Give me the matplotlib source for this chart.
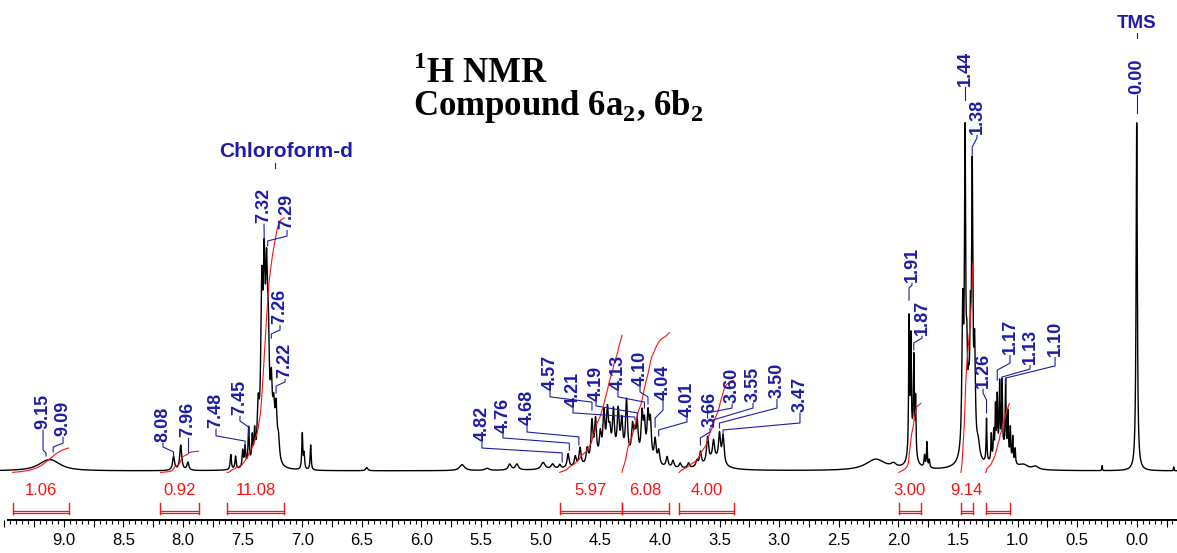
import numpy as np
import matplotlib
matplotlib.use('Agg')
import matplotlib.pyplot as plt
from matplotlib.ticker import MultipleLocator, FuncFormatter

plt.rcParams['font.family'] = ['Liberation Sans', 'DejaVu Sans']
plt.rcParams['mathtext.fontset'] = 'custom'
plt.rcParams['mathtext.rm'] = 'Liberation Serif:bold'
plt.rcParams['mathtext.bf'] = 'Liberation Serif:bold'

# peak list: shift (ppm), height (TMS = 100), width (ppm)
peak_ppm = [9.15, 9.09, 8.08, 8.02, 7.96,
            7.60, 7.56, 7.50, 7.48, 7.45, 7.42, 7.40,
            7.37, 7.34, 7.32, 7.30, 7.285, 7.26, 7.24, 7.22, 7.20,
            7.00, 6.985, 6.93, 6.46, 5.66, 5.45, 5.26, 5.20, 4.98, 4.90,
            4.84, 4.77, 4.71, 4.67, 4.61, 4.57, 4.54, 4.50, 4.47, 4.44,
            4.42, 4.39, 4.35, 4.32, 4.28, 4.23, 4.21, 4.19, 4.15, 4.13,
            4.10, 4.08, 4.04, 4.01, 3.94, 3.89, 3.83, 3.76, 3.69, 3.66,
            3.60, 3.55, 3.50, 3.47, 4.35, 3.55,
            2.19, 2.04,
            1.91, 1.895, 1.87, 1.855, 1.885, 1.78, 1.76, 1.74,
            1.46, 1.44, 1.425, 1.41, 1.395, 1.38, 1.36, 1.33, 1.41,
            1.26, 1.22, 1.20, 1.185, 1.17, 1.15, 1.13, 1.10, 1.08, 1.06,
            1.04, 1.02, 1.13, 0.95, 0.85,
            0.29, 0.00, -0.31]
peak_height = [1.8, 1.8, 4.0, 7.2, 2.3,
               4.3, 3.7, 4.9, 5.7, 10.9, 7.5, 8.0,
               14.0, 44.0, 46.0, 42.0, 27.0, 18.0, 12.0, 14.0, 6.0,
               10.3, 4.3, 7.2, 0.9, 1.7, 0.6, 1.7, 1.7, 2.0, 1.4,
               1.1, 4.0, 2.9, 5.2, 4.3, 11.5, 11.5, 7.0, 12.5, 12.5,
               6.0, 12.5, 12.5, 9.5, 16.0, 8.5, 6.0, 9.5, 12.5, 9.5,
               12.5, 11.0, 6.8, 4.0, 2.9, 2.0, 1.4, 1.4, 1.7, 4.0,
               7.2, 5.2, 8.0, 8.0, 3.4, 2.9,
               3.2, 1.1,
               38.0, 29.0, 25.0, 16.0, 8.6, 3.4, 7.2, 2.3,
               40.0, 85.0, 18.0, 8.0, 28.0, 75.0, 28.0, 4.3, 8.6,
               12.5, 7.5, 7.5, 14.0, 16.0, 19.0, 19.0, 20.5, 12.5, 9.0,
               7.2, 4.3, 5.7, 1.1, 0.9,
               1.4, 100.0, 1.1]
peak_width = [0.18, 0.18, 0.02, 0.02, 0.02,
              0.012, 0.012, 0.012, 0.012, 0.012, 0.012, 0.012,
              0.02, 0.02, 0.02, 0.02, 0.02, 0.02, 0.02, 0.02, 0.02,
              0.01, 0.01, 0.01, 0.02, 0.05, 0.04, 0.03, 0.03, 0.04, 0.03,
              0.02, 0.02, 0.02, 0.02, 0.02, 0.02, 0.02, 0.02, 0.02, 0.02,
              0.02, 0.02, 0.02, 0.02, 0.02, 0.02, 0.02, 0.02, 0.02, 0.02,
              0.02, 0.02, 0.02, 0.02, 0.02, 0.02, 0.02, 0.02, 0.02, 0.02,
              0.02, 0.02, 0.02, 0.02, 0.4, 0.15,
              0.2, 0.05,
              0.008, 0.008, 0.008, 0.008, 0.05, 0.01, 0.008, 0.01,
              0.015, 0.012, 0.012, 0.012, 0.012, 0.012, 0.015, 0.03, 0.08,
              0.008, 0.008, 0.008, 0.008, 0.008, 0.008, 0.008, 0.008, 0.008, 0.008,
              0.008, 0.008, 0.12, 0.08, 0.06,
              0.005, 0.012, 0.005]

# integration regions (ppm from, ppm to) and values
int_from = [9.43, 8.19, 7.63, 4.84, 4.318, 3.84, 1.996, 1.475, 1.268]
int_to = [8.96, 7.87, 7.15, 4.318, 3.92, 3.38, 1.81, 1.374, 1.067]
int_value = [1.06, 0.92, 11.08, 5.97, 6.08, 4.00, 3.00, 9.14, 3.00]
int_label = ['1.06', '0.92', '11.08', '5.97', '6.08', '4.00', '3.00', '9.14', '']

# picked peaks
label_ppm = [9.15, 9.09, 8.08, 7.96, 7.48, 7.45, 7.32, 7.29, 7.26, 7.22,
             4.82, 4.76, 4.68, 4.57, 4.21, 4.19, 4.13, 4.10, 4.04, 4.01,
             3.66, 3.60, 3.55, 3.50, 3.47,
             1.91, 1.87, 1.44, 1.38, 1.26, 1.17, 1.13, 1.10, 0.00]

# label layout: text x (ppm), text bottom, first knee, second knee, line end
label_x = [9.175, 9.007, 8.169, 7.96, 7.724, 7.523, 7.321, 7.128, 7.187, 7.145,
           5.493, 5.316, 5.115, 4.922, 4.729, 4.536, 4.352, 4.167, 3.974, 3.773,
           3.580, 3.395, 3.219, 3.018, 2.825,
           1.885, 1.801, 1.440, 1.340, 1.289, 1.063, 0.895, 0.685, 0.0]
label_y = [(12.1, 6.0, 5.2, 4.3), (10.1, 8.0, 6.9, 5.5), (8.3, 6.9, 5.5, 4.0),
           (9.8, 8.6, 7.5, 5.5), (12.4, 10.1, 8.6, 6.3), (16.1, 14.4, 12.6, 10.1),
           (71.3, 69.8, 68.7, 66.4), (69.5, 67.5, 66.1, 64.7), (42.2, 40.5, 39.4, 38.2),
           (26.7, 25.6, 24.4, 22.4),
           (8.6, 6.6, 5.2, 2.6), (10.9, 9.5, 8.0, 6.0), (13.2, 11.2, 9.8, 7.5),
           (23.3, 21.3, 19.8, 17.5), (18.4, 16.7, 15.5, 14.7), (20.1, 18.7, 16.7, 15.2),
           (23.3, 21.3, 19.8, 18.1), (24.4, 22.7, 21.3, 19.3), (20.4, 17.5, 15.2, 12.6),
           (15.5, 14.1, 11.8, 10.1),
           (12.6, 11.2, 9.5, 7.5), (19.5, 18.1, 16.7, 15.2), (19.8, 18.1, 14.7, 12.6),
           (21.0, 18.1, 13.8, 12.4), (17.0, 13.8, 11.8, 9.8),
           (54.3, 53.4, 52.6, 49.1), (39.1, 38.2, 36.8, 34.8), (110.6, 109.5, 108.0, 106.6),
           (96.8, 95.7, 93.1, 90.8), (23.9, 22.4, 20.4, 16.7), (33.6, 31.0, 29.0, 26.1),
           (30.7, 29.3, 27.0, 25.3), (33.0, 30.2, 26.7, 25.0), (108.3, 107.5, 106.6, 102.9)]

blue = '#1c1caa'
red = '#ff1010'

ppm = np.linspace(9.536, -0.338, 40000)
spec = np.zeros_like(ppm)
for c, h, w in zip(peak_ppm, peak_height, peak_width):
    spec += h / (1 + ((ppm - c) / (w / 2)) ** 2)

fig = plt.figure(figsize=(11.77, 5.53), dpi=100)
ax = fig.add_axes([0, 0, 1, 1])
ax.set_xlim(9.536, -0.338)
ax.set_ylim(-23.56, 135.34)

ax.plot(ppm, spec, color='black', lw=1.0)

# integrals
k = 6.6
for a, b, v, lab in zip(int_from, int_to, int_value, int_label):
    m = (ppm <= a) & (ppm >= b)
    cum = np.cumsum(spec[m])
    cum = cum / cum[-1] * v * k - 0.4
    ax.plot(ppm[m], cum, color=red, lw=0.8)
    ax.plot([a, a], [-9.2, -12.4], color=red, lw=1)
    ax.plot([b, b], [-9.2, -12.4], color=red, lw=1)
    ax.plot([a, b], [-11.4, -11.4], color=red, lw=0.9)
    ax.plot([a, b], [-12.1, -12.1], color=red, lw=0.9)
    ax.text((a + b) / 2, -5.7, lab, color=red, fontsize=12, ha='center', va='center')

# peak labels
for p, lx, (tb, k1, k2, end) in zip(label_ppm, label_x, label_y):
    ax.text(lx, tb, f'{p:.2f}', rotation=90, ha='center', va='bottom',
            color=blue, fontsize=13, fontweight='bold')
    ax.plot([lx, lx, p, p], [tb - 0.4, k1, k2, end], color=blue, lw=0.8)

ax.text(7.14, 91.7, 'Chloroform-d', color=blue, fontsize=15, fontweight='bold',
        ha='center', va='center')
ax.plot([7.229, 7.229], [88.5, 87.1], color=blue, lw=0.8)
ax.text(0.0, 128.7, 'TMS', color=blue, fontsize=13.5, fontweight='bold',
        ha='center', va='center')
ax.plot([0.0, 0.0], [125.9, 124.4], color=blue, lw=0.8)

fig.text(413 / 1177, 1 - 83 / 553, r'$^{1}$H NMR', family='Liberation Serif',
         fontweight='bold', fontsize=25, va='baseline')
fig.text(413 / 1177, 1 - 115 / 553, r'Compound 6a$_{2}$, 6b$_{2}$', family='Liberation Serif',
         fontweight='bold', fontsize=25, va='baseline')

# ppm axis
for s in ['left', 'right', 'top']:
    ax.spines[s].set_visible(False)
ax.spines['bottom'].set_position(('data', -14.1))
ax.spines['bottom'].set_bounds(9.47, -0.338)
ax.spines['bottom'].set_linewidth(1.4)
ax.yaxis.set_visible(False)
ax.xaxis.set_major_locator(MultipleLocator(0.25))
ax.xaxis.set_minor_locator(MultipleLocator(0.05))


def fmt(v, pos):
    if abs(v * 2 - round(v * 2)) > 1e-6 or v > 9.3 or v < -0.2:
        return ''
    return f'{abs(v) if abs(v) < 1e-9 else v:.1f}'


ax.xaxis.set_major_formatter(FuncFormatter(fmt))
ax.tick_params(axis='x', which='major', direction='out', length=5, width=0.8, pad=4, labelsize=12)
ax.tick_params(axis='x', which='minor', direction='out', length=2.8, width=0.8)

fig.savefig('out.png', dpi=100)
